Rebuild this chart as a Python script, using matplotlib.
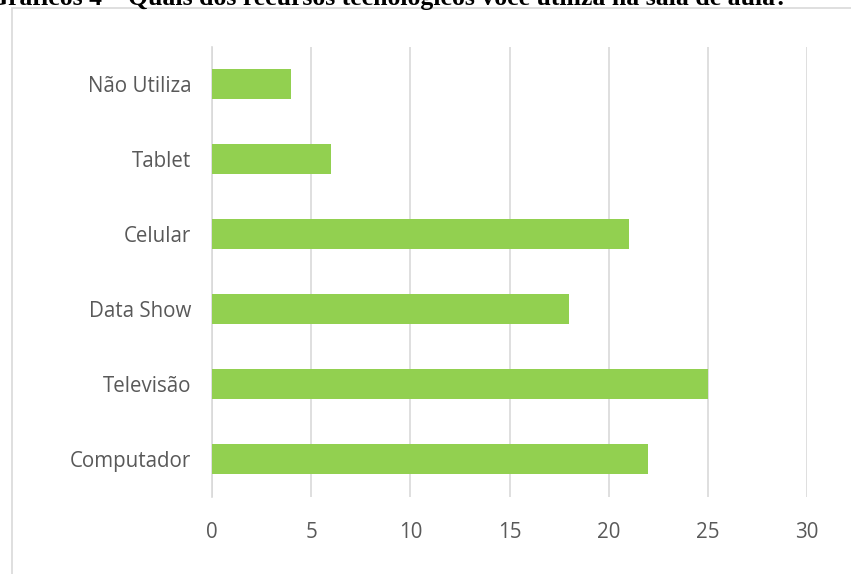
import matplotlib
matplotlib.use("Agg")
import matplotlib.pyplot as plt
from matplotlib.patches import Rectangle

categories = ["Computador", "Televisão", "Data Show", "Celular", "Tablet", "Não Utiliza"]
values = [22, 25, 18, 21, 6, 4]
xticks = [0, 5, 10, 15, 20, 25, 30]
title = "Gráficos 4 – Quais dos recursos tecnológicos você utiliza na sala de aula?"

W, H = 851, 574
fig = plt.figure(figsize=(W / 100, H / 100), dpi=100)

# chart border
fig.patches.append(Rectangle((12 / W, -0.01), 1.0, 1 - 8 / H + 0.01, transform=fig.transFigure,
                             fill=False, edgecolor="#D9D9D9", linewidth=1.2))

# caption at the top (cut off at the top edge as in the reference)
fig.text(-12 / W, 1 - 5 / H, title, ha="left", va="baseline",
         fontfamily="Liberation Serif", fontweight="bold", fontsize=18.5, color="black")

ax = fig.add_axes([212 / W, 1 - 497 / H, (807 - 212) / W, (497 - 46.5) / H])
ax.barh(range(len(categories)), values, height=0.4, color="#92D050", zorder=3)
ax.set_xlim(0, 30)
ax.set_ylim(-0.5, len(categories) - 0.5)
ax.set_xticks(xticks)
ax.set_xticklabels([str(t) for t in xticks])
ax.set_yticks(range(len(categories)))
ax.set_yticklabels(categories)
ax.grid(axis="x", color="#D9D9D9", linewidth=1.2, zorder=0)
for s in ["top", "right", "bottom"]:
    ax.spines[s].set_visible(False)
ax.spines["left"].set_color("#D9D9D9")
ax.spines["left"].set_linewidth(1.2)
ax.tick_params(axis="both", length=0, labelsize=14.8, labelcolor="#595959")
ax.tick_params(axis="y", pad=15)
ax.tick_params(axis="x", pad=18)
for lab in ax.get_xticklabels() + ax.get_yticklabels():
    lab.set_fontfamily("Open Sans")

fig.savefig("out.png", dpi=100)
